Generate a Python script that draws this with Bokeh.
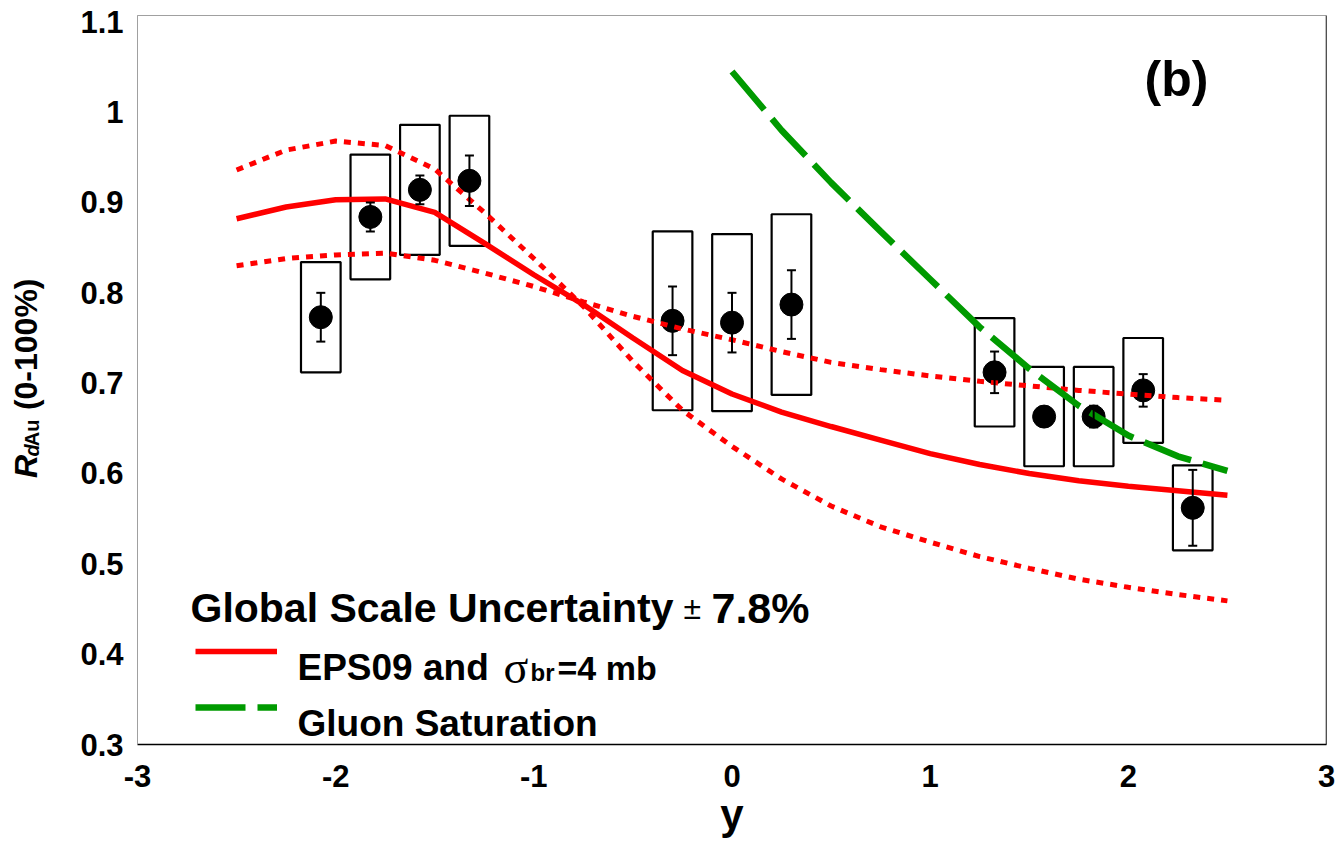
import math
from bokeh.plotting import figure
from bokeh.layouts import row
from bokeh.models import (ColumnDataSource, Whisker, TeeHead, Label, Span, Legend,
                          LegendItem, Range1d, FixedTicker)
from bokeh.embed import file_html
from bokeh.resources import INLINE

# ---------------- data ----------------
rap = [-2.075, -1.825, -1.575, -1.325, -0.3, 0.0, 0.3, 1.325, 1.575, 1.825, 2.075, 2.325]
rdau = [0.773, 0.884, 0.914, 0.924, 0.769, 0.767, 0.787, 0.712, 0.663, 0.663, 0.692, 0.562]
stat_err = [0.027, 0.016, 0.016, 0.028, 0.038, 0.033, 0.038, 0.023, 0.008, 0.012, 0.018, 0.042]
sys_err = [0.061, 0.069, 0.072, 0.072, 0.099, 0.098, 0.100, 0.060, 0.055, 0.055, 0.058, 0.047]

curve_y = [-2.5, -2.25, -2.0, -1.75, -1.5, -1.25, -1.0, -0.75, -0.5, -0.25, 0.0,
           0.25, 0.5, 0.75, 1.0, 1.25, 1.5, 1.75, 2.0, 2.25, 2.5]
eps09 = [0.882, 0.895, 0.903, 0.904, 0.889, 0.855, 0.820, 0.787, 0.750, 0.714, 0.688,
         0.668, 0.652, 0.637, 0.622, 0.610, 0.600, 0.592, 0.586, 0.581, 0.576]
eps09_band_a = [0.936, 0.958, 0.968, 0.963, 0.937, 0.889, 0.838, 0.785, 0.724, 0.670, 0.630,
                0.594, 0.564, 0.541, 0.524, 0.508, 0.495, 0.483, 0.474, 0.466, 0.459]
eps09_band_b = [0.830, 0.838, 0.842, 0.844, 0.836, 0.822, 0.807, 0.790, 0.774, 0.760, 0.748,
                0.735, 0.723, 0.715, 0.708, 0.702, 0.697, 0.692, 0.688, 0.684, 0.681]

sat_y = [0.0, 0.25, 0.5, 0.75, 1.0, 1.25, 1.5, 1.75, 2.0, 2.25, 2.5]
sat_r = [1.045, 0.980, 0.922, 0.868, 0.815, 0.762, 0.716, 0.675, 0.642, 0.619, 0.603]

x_ticks = [-3, -2, -1, 0, 1, 2, 3]
x_tick_labels = ["-3", "-2", "-1", "0", "1", "2", "3"]
y_ticks = [0.3, 0.4, 0.5, 0.6, 0.7, 0.8, 0.9, 1.0, 1.1]
y_tick_labels = ["0.3", "0.4", "0.5", "0.6", "0.7", "0.8", "0.9", "1", "1.1"]

# ---------------- layout ----------------
W, H = 1335, 848
STRIP = 60                      # left strip holding the rotated y title
BL, BR, BT, BB = 137, 9, 15, 104  # frame edges in page pixels
X0, X1 = -3.0, 3.0
Y0, Y1 = 0.3, 1.107
FW, FH = W - BL - BR, H - BT - BB

def dx(px):
    return X0 + (px - BL) * (X1 - X0) / FW

def dy(py):
    return Y0 + (H - BB - py) * (Y1 - Y0) / FH

FONT = "Liberation Sans"
RED = "#ff0000"
GREEN = "#009a00"

p = figure(width=W - STRIP, height=H, output_backend="svg", toolbar_location=None,
           x_range=Range1d(X0, X1), y_range=Range1d(Y0, Y1),
           min_border_left=BL - STRIP, min_border_right=BR,
           min_border_top=BT, min_border_bottom=BB)
p.grid.visible = False
p.outline_line_color = "#a0a0a0"
p.background_fill_color = "white"
p.border_fill_color = "white"

p.xaxis.ticker = FixedTicker(ticks=x_ticks)
p.yaxis.ticker = FixedTicker(ticks=y_ticks)
p.xaxis.major_label_overrides = {t: l for t, l in zip(x_ticks, x_tick_labels)}
p.yaxis.major_label_overrides = {t: l for t, l in zip(y_ticks, y_tick_labels)}
for ax in (p.xaxis[0], p.yaxis[0]):
    ax.major_tick_line_color = None
    ax.minor_tick_line_color = None
    ax.major_tick_out = 0
    ax.major_tick_in = 0
    ax.major_label_text_font = FONT
    ax.major_label_text_font_style = "bold"
    ax.major_label_text_font_size = "31px"
    ax.major_label_text_color = "black"
p.yaxis.major_label_standoff = 14
p.xaxis.major_label_standoff = 20
p.yaxis.axis_line_color = "#a0a0a0"
p.xaxis.axis_line_color = "black"
p.xaxis.axis_line_width = 1.5
p.xaxis.axis_label = "y"
p.xaxis.axis_label_text_font = FONT
p.xaxis.axis_label_text_font_style = "bold"
p.xaxis.axis_label_text_font_size = "42px"
p.xaxis.axis_label_text_color = "black"
p.xaxis.axis_label_standoff = 1

p.add_layout(Span(location=X1, dimension="height", line_color="black", line_width=1.5))

# ---------------- data marks ----------------
src = ColumnDataSource(dict(
    x=rap, y=rdau,
    left=[a - 0.1 for a in rap], right=[a + 0.1 for a in rap],
    top=[v + s for v, s in zip(rdau, sys_err)], bottom=[v - s for v, s in zip(rdau, sys_err)],
    up=[v + e for v, e in zip(rdau, stat_err)], lo=[v - e for v, e in zip(rdau, stat_err)],
))

p.quad(left="left", right="right", top="top", bottom="bottom", source=src,
       fill_color=None, line_color="black", line_width=2.2)
p.add_layout(Whisker(source=src, base="x", upper="up", lower="lo",
                     line_color="black", line_width=2,
                     upper_head=TeeHead(size=9, line_width=2, line_color="black"),
                     lower_head=TeeHead(size=9, line_width=2, line_color="black"),
                     level="glyph"))
p.scatter("x", "y", source=src, size=23, color="black")

r_a = p.line(curve_y, eps09_band_a, line_color=RED, line_width=5, line_dash="7 7")
r_b = p.line(curve_y, eps09_band_b, line_color=RED, line_width=5, line_dash="7 7")
r_eps = p.line(curve_y, eps09, line_color=RED, line_width=5.5)
r_sat = p.line(sat_y, sat_r, line_color=GREEN, line_width=6.5, line_dash="50 12")

# ---------------- legend ----------------
legend = Legend(items=[LegendItem(label=" ", renderers=[r_eps]),
                       LegendItem(label=" ", renderers=[r_sat])],
                location=(58, 27), glyph_width=82, glyph_height=20, label_height=20,
                label_width=1, spacing=36, padding=0, margin=0,
                border_line_color=None, background_fill_alpha=0,
                label_text_font_size="1px", label_standoff=0)
p.add_layout(legend)

def lab(fig, conv_x, conv_y, text, px, py, size, style="bold", font=FONT, align="left",
        baseline="alphabetic", angle=0.0):
    fig.add_layout(Label(x=conv_x(px), y=conv_y(py), text=text, text_font=font,
                         text_font_size=size, text_font_style=style, text_align=align,
                         text_baseline=baseline, text_color="black", angle=angle))

def mlab(*a, **k):
    lab(p, dx, dy, *a, **k)

mlab("Global Scale Uncertainty", 190, 607, "41px")
mlab("\u00b1", 683, 607, "32px", style="normal")
mlab("7.8%", 711, 607, "43px")
mlab("EPS09 and", 297, 667, "37px")
mlab("\u03c3", 503, 667, "46px", style="normal", font="Liberation Serif")
mlab("br", 530, 672, "24px")
mlab("=4 mb", 557, 667, "34px")
mlab("Gluon Saturation", 297, 723, "37px")
mlab("(b)", 1176, 78, "50px", align="center", baseline="middle")

# ---------------- left strip with the rotated y-axis title ----------------
pl = figure(width=STRIP, height=H, output_backend="svg", toolbar_location=None,
            x_range=Range1d(0, STRIP), y_range=Range1d(H, 0),
            x_axis_location=None, y_axis_location=None, min_border=0)
pl.grid.visible = False
pl.outline_line_color = None
pl.background_fill_color = "white"
pl.border_fill_color = "white"

def llab(*a, **k):
    lab(pl, lambda v: v, lambda v: v, *a, **k)

llab("R", 25, 538, "32px", style="bold italic", angle=math.pi / 2)
llab("d", 31, 513, "20px", style="bold italic", angle=math.pi / 2)
llab("Au", 31, 501, "20px", style="bold", angle=math.pi / 2)
llab("(0-100%)", 25, 459, "32px", angle=math.pi / 2)

layout = row(pl, p, spacing=0)
open("out.html", "w").write(file_html(layout, INLINE))
